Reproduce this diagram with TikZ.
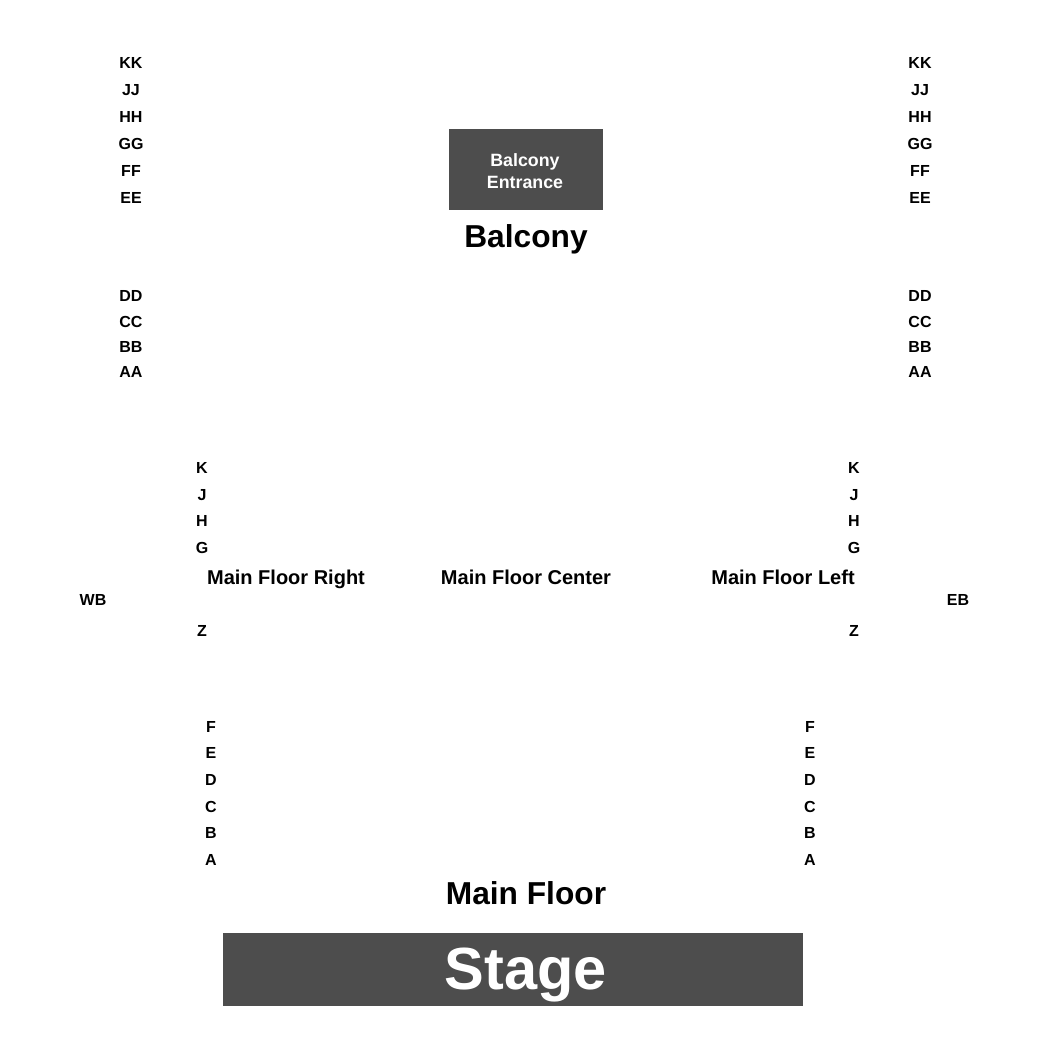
\documentclass[tikz,border=0pt]{standalone}
\usepackage{fontspec}
\setmainfont{Liberation Sans}
\usetikzlibrary{positioning}
\definecolor{hallgray}{RGB}{77,77,77}
\tikzstyle{rowlabel} = [font=\fontsize{16}{16}\selectfont\bfseries, anchor=base, inner sep=0pt]
\tikzstyle{sectionlabel} = [font=\fontsize{20}{20}\selectfont\bfseries, anchor=base, inner sep=0pt]
\tikzstyle{arealabel} = [font=\fontsize{31.7}{31.7}\selectfont\bfseries, anchor=base, inner sep=0pt]
\tikzstyle{darkbox} = [fill=hallgray, draw=none, inner sep=0pt]

\begin{document}
\begin{tikzpicture}[x=1pt, y=-1pt]
\useasboundingbox (0,0) rectangle (1050,1050);
% Balcony rows
\foreach \row/\y in {KK/68,JJ/95,HH/122,GG/149,FF/176,EE/203,DD/301,CC/327,BB/352,AA/377}{
  \node[rowlabel] (balleft-\row) at (131,\y) {\row};
  \node[rowlabel] (balright-\row) at (920,\y) {\row};
}
% Balcony entrance
\node[darkbox, minimum width=154, minimum height=81] (entrance) at (526,169.5) {};
\node[font=\fontsize{17.8}{22}\selectfont\bfseries, text=white, align=center, inner sep=0pt] (entrancetext) at (525,171.5) {Balcony\\Entrance};
\node[arealabel] (balcony) at (526,247.5) {Balcony};
% Main floor upper rows
\foreach \row/\y in {K/473,J/500,H/526,G/553,Z/636}{
  \node[rowlabel] (mfright-\row) at (202,\y) {\row};
  \node[rowlabel] (mfleft-\row) at (854,\y) {\row};
}
\node[sectionlabel] (mfr) at (286,584.5) {Main Floor Right};
\node[sectionlabel] (mfc) at (526,584.5) {Main Floor Center};
\node[sectionlabel] (mfl) at (783,584.5) {Main Floor Left};
\node[rowlabel] (wb) at (93,605) {WB};
\node[rowlabel] (eb) at (958,605) {EB};
% Main floor lower rows
\foreach \row/\y in {F/732,E/758,D/785,C/812,B/838,A/865}{
  \node[rowlabel] (lowright-\row) at (211,\y) {\row};
  \node[rowlabel] (lowleft-\row) at (810,\y) {\row};
}
\node[arealabel] (mainfloor) at (526,904.5) {Main Floor};
% Stage
\node[darkbox, minimum width=580, minimum height=73] (stage) at (513,969.5) {};
\node[font=\fontsize{59.5}{59.5}\selectfont\bfseries, text=white, anchor=base, inner sep=0pt] (stagetext) at (526,989.5) {Stage};
\end{tikzpicture}
\end{document}
